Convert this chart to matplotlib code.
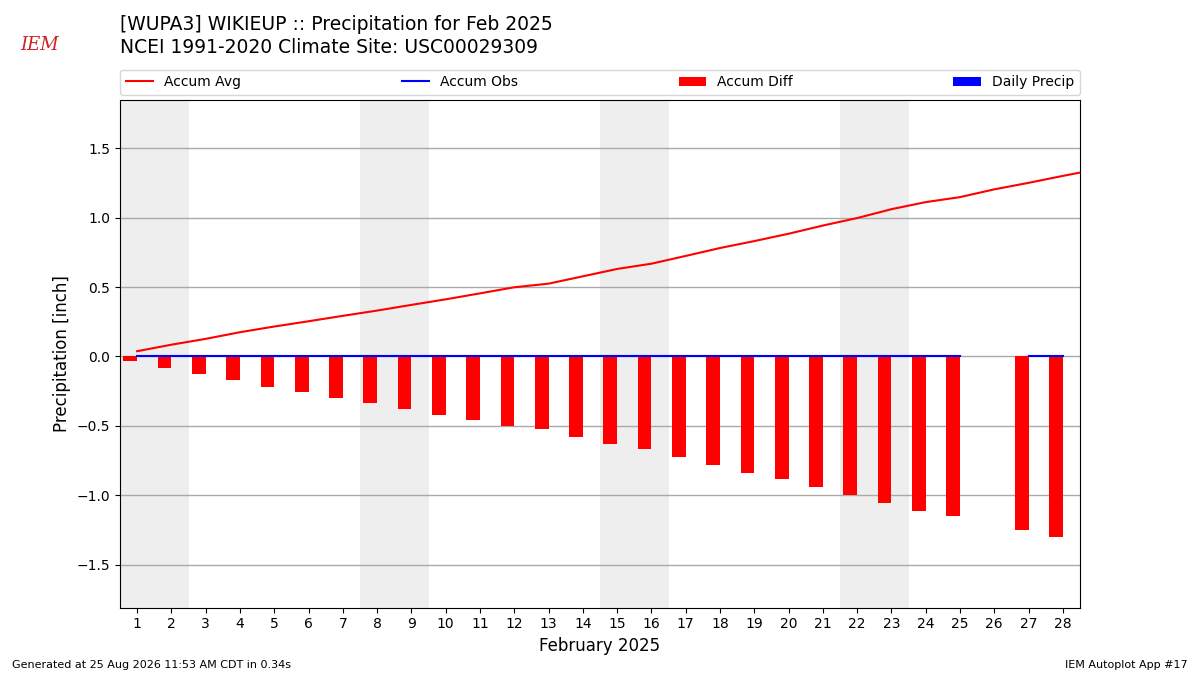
import numpy as np
import matplotlib
matplotlib.use("Agg")
import matplotlib.pyplot as plt

# 2025年2月逐日数据
days = list(range(1, 29))
accum_avg = [0.038, 0.085, 0.127, 0.175, 0.216, 0.254, 0.293, 0.331, 0.372, 0.412,
             0.455, 0.499, 0.525, 0.578, 0.631, 0.669, 0.725, 0.782, 0.832, 0.885,
             0.944, 0.998, 1.062, 1.113, 1.149, 1.205, 1.252, 1.302]
avg_days = days + [29]
avg_line = accum_avg + [1.350]
accum_obs = [0.0] * 25 + [np.nan] + [0.0, 0.0]
accum_diff = [-0.036, -0.086, -0.126, -0.172, -0.220, -0.254, -0.298, -0.334, -0.378, -0.420,
              -0.457, -0.499, -0.526, -0.578, -0.628, -0.665, -0.728, -0.785, -0.837, -0.885,
              -0.941, -0.996, -1.060, -1.115, -1.151, np.nan, -1.252, -1.302]
daily_precip = [0.0] * 25 + [np.nan] + [0.0, 0.0]
weekends = [(0.5, 2.5), (7.5, 9.5), (14.5, 16.5), (21.5, 23.5)]

fig = plt.figure(figsize=(12, 6.75), dpi=100)
ax = fig.add_axes([0.1, 0.1, 0.8, 0.752])

for a, b in weekends:
    ax.axvspan(a, b, color="#eeeeee", zorder=0, lw=0)

ax.plot(avg_days, avg_line, color="r", lw=1.5, label="Accum Avg", zorder=3)
ax.plot(days, accum_obs, color="b", lw=1.5, label="Accum Obs", zorder=3)
ax.bar(np.array(days) - 0.4, accum_diff, width=0.4, align="edge", color="r",
       label="Accum Diff", zorder=2)
ax.bar(days, daily_precip, width=0.4, align="edge", color="b",
       label="Daily Precip", zorder=2)

ax.set_xlim(0.5, 28.5)
ax.set_ylim(-1.81, 1.85)
ax.set_xticks(days)
ax.set_yticks([-1.5, -1.0, -0.5, 0.0, 0.5, 1.0, 1.5])
ax.grid(axis="y", color="#aaaaaa", lw=1)
ax.set_axisbelow(True)
ax.tick_params(labelsize=10)
ax.set_ylabel("Precipitation [inch]", fontsize=12)
ax.set_xlabel("February 2025", fontsize=12)

ax.legend(loc="lower left", bbox_to_anchor=(0, 1.01, 1, 0.05), ncol=4,
          mode="expand", borderaxespad=0, fontsize=10)

fig.text(0.1, 0.964, "[WUPA3] WIKIEUP :: Precipitation for Feb 2025",
         fontsize=13.5, va="center")
fig.text(0.1, 0.930, "NCEI 1991-2020 Climate Site: USC00029309",
         fontsize=13.5, va="center")
fig.text(0.017, 0.933, "IEM", fontsize=13, color="#cc2222", family="serif",
         style="italic", va="center")
fig.text(0.01, 0.015, "Generated at 25 Aug 2026 11:53 AM CDT in 0.34s",
         fontsize=8, va="center")
fig.text(0.99, 0.015, "IEM Autoplot App #17", fontsize=8, ha="right", va="center")

fig.savefig("out.png", dpi=100)
